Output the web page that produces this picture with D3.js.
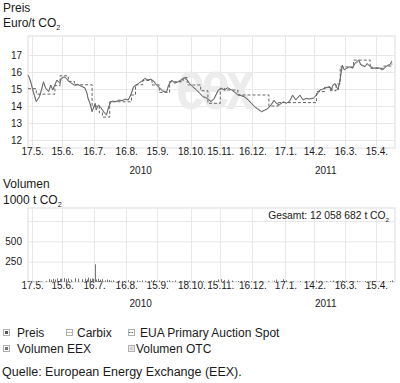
<!DOCTYPE html>
<html><head><meta charset="utf-8">
<script src="https://cdn.jsdelivr.net/npm/d3@7"></script>
<style>body{margin:0;background:#fff;} svg text{font-family:"Liberation Sans",Arial,Helvetica,sans-serif;fill:#1a1a1a;}</style>
</head><body><svg id="c" width="400" height="383"></svg>
<script>
const priceDates = ["2010-05-13","2010-05-14","2010-05-16","2010-05-18","2010-05-21","2010-05-24","2010-05-26","2010-05-28","2010-05-30",
"2010-06-02","2010-06-04","2010-06-06","2010-06-08","2010-06-10","2010-06-13","2010-06-14","2010-06-17","2010-06-19","2010-06-21","2010-06-24","2010-06-27","2010-06-30",
"2010-07-04","2010-07-07","2010-07-09","2010-07-10","2010-07-12","2010-07-14","2010-07-15","2010-07-17","2010-07-18","2010-07-20","2010-07-22","2010-07-24","2010-07-26","2010-07-28","2010-07-30",
"2010-08-01","2010-08-03","2010-08-06","2010-08-09","2010-08-12","2010-08-15","2010-08-18","2010-08-21","2010-08-23","2010-08-26","2010-08-28","2010-08-31",
"2010-09-03","2010-09-06","2010-09-09","2010-09-12","2010-09-14","2010-09-17","2010-09-20","2010-09-24","2010-09-26","2010-09-29",
"2010-10-02","2010-10-05","2010-10-08","2010-10-11","2010-10-14","2010-10-16","2010-10-19","2010-10-23","2010-10-26","2010-10-29",
"2010-11-02","2010-11-06","2010-11-09","2010-11-13","2010-11-16","2010-11-19","2010-11-22","2010-11-26","2010-11-29",
"2010-12-02","2010-12-05","2010-12-08","2010-12-12","2010-12-15","2010-12-18","2010-12-21","2010-12-25","2010-12-28","2010-12-31",
"2011-01-03","2011-01-06","2011-01-08","2011-01-11","2011-01-15","2011-01-18","2011-01-21","2011-01-24","2011-01-27","2011-01-31",
"2011-02-03","2011-02-06","2011-02-09","2011-02-13","2011-02-16","2011-02-19","2011-02-22","2011-02-25",
"2011-03-01","2011-03-02","2011-03-04","2011-03-06","2011-03-09","2011-03-11","2011-03-13","2011-03-15","2011-03-17","2011-03-20","2011-03-23","2011-03-25","2011-03-27","2011-03-29","2011-03-31",
"2011-04-04","2011-04-06","2011-04-09","2011-04-12","2011-04-15","2011-04-18","2011-04-21","2011-04-25","2011-04-28","2011-04-30"];

const preisValues = [15.82,15.72,15.33,14.84,14.25,14.55,14.94,15.43,15.04,
14.84,15.24,14.94,15.24,15.53,15.33,15.63,15.72,15.63,15.47,15.33,15.24,15.28,
15.14,15.08,14.75,14.45,14.16,13.66,13.86,14.16,13.76,14.06,13.96,13.76,13.57,13.47,13.96,
14.25,14.29,14.25,14.35,14.31,14.41,14.35,14.75,15.14,15.24,15.33,15.47,
15.63,15.53,15.59,15.43,15.24,15.08,14.88,14.80,15.24,15.53,
15.33,15.43,15.53,15.67,15.53,15.33,15.14,14.94,14.75,14.55,
14.45,14.25,14.45,14.94,15.04,14.94,15.08,14.94,14.80,
14.65,14.61,14.55,14.35,14.16,13.96,13.82,13.66,13.76,13.86,
14.06,14.35,14.16,14.06,14.25,14.16,14.29,14.65,14.35,14.65,
14.35,14.45,14.41,14.45,14.65,14.94,15.00,15.08,
15.14,14.88,15.24,15.33,14.94,15.63,16.41,16.12,16.22,16.31,16.22,16.51,16.61,16.71,16.41,
16.31,16.51,16.31,16.22,16.25,16.22,16.12,16.37,16.45,16.65];

const carbixValues = [15.78,15.70,15.40,14.90,14.32,14.50,14.98,15.38,15.10,
14.90,15.20,14.98,15.28,15.50,15.36,15.60,15.68,15.66,15.50,15.36,15.20,15.25,
15.18,15.05,14.80,14.50,14.10,13.72,13.80,14.10,13.85,14.00,13.90,13.80,13.62,13.55,13.90,
14.20,14.26,14.28,14.33,14.34,14.38,14.38,14.70,15.10,15.20,15.36,15.44,
15.60,15.56,15.55,15.46,15.28,15.12,14.92,14.85,15.20,15.48,
15.38,15.40,15.50,15.62,15.56,15.38,15.18,14.98,14.78,14.60,
14.48,14.30,14.40,14.88,15.00,14.98,15.04,14.96,14.84,
14.70,14.62,14.58,14.40,14.20,14.00,13.86,13.70,13.74,13.84,
14.02,14.30,14.20,14.10,14.22,14.18,14.26,14.58,14.40,14.60,
14.40,14.42,14.44,14.48,14.62,14.90,14.98,15.05,
15.10,14.95,15.20,15.28,15.00,15.55,16.30,16.15,16.20,16.28,16.25,16.45,16.55,16.62,16.45,
16.35,16.45,16.35,16.25,16.22,16.25,16.15,16.32,16.42,16.58];

const auctionDates = ["2010-05-13","2010-05-21","2010-06-08","2010-06-13","2010-06-21","2010-06-27","2010-07-14","2010-07-21","2010-07-24","2010-07-31",
"2010-08-21","2010-08-25","2010-09-01","2010-09-10","2010-09-17","2010-09-27","2010-10-10","2010-10-14","2010-10-27","2010-11-03",
"2010-11-15","2010-11-19","2010-12-02","2011-01-01","2011-01-10","2011-02-16","2011-02-24","2011-03-03","2011-03-07","2011-03-11",
"2011-03-24","2011-04-09","2011-04-22","2011-04-30"];
const auctionValues = [15.02,14.7,15.2,15.78,15.45,15.25,14.0,13.6,13.35,14.25,
14.65,15.25,15.5,15.24,14.8,15.43,15.67,15.24,14.9,14.16,
15.04,14.94,14.65,14.0,14.2,14.85,15.1,14.9,15.3,16.3,
16.7,16.22,16.35,16.5];

const volumeEEX = [8,0,10,6,0,12,8,0,10,
35,28,40,30,45,38,42,50,36,44,30,48,40,
35,42,30,55,40,45,38,218,30,42,28,35,20,30,25,
15,20,0,18,12,0,22,15,0,18,10,20,
15,0,20,25,12,18,0,15,22,10,
18,0,12,20,0,15,10,0,18,12,
0,15,20,30,35,25,28,18,0,
12,0,15,0,10,0,0,8,0,10,
0,15,30,0,35,20,0,10,0,12,
0,0,10,0,20,15,0,12,
10,0,18,0,15,12,20,0,15,0,10,0,15,8,0,
12,0,10,15,0,8,0,0,12,20];

const volumeOTC = [5,10,0,8,12,0,6,10,0,
10,0,15,8,0,12,10,0,15,8,12,0,10,
12,0,10,15,0,10,20,0,12,0,8,15,0,10,12,
0,10,8,0,12,6,0,10,8,0,12,0,
10,8,0,12,0,10,8,0,12,6,
0,10,8,0,12,10,0,8,6,0,
10,0,12,15,10,0,8,12,10,
0,8,0,10,0,6,0,0,0,8,
10,0,15,12,0,8,10,0,6,0,
8,0,0,10,12,0,8,10,
0,12,10,0,8,10,0,12,8,0,10,6,0,10,8,
0,10,8,0,12,0,10,8,0,10];

const xTickDates = ["2010-05-17","2010-06-15","2010-07-16","2010-08-16","2010-09-15","2010-10-18","2010-11-15","2010-12-16","2011-01-17","2011-02-14","2011-03-16","2011-04-15"];
const yearLabels = [["2010","2010-08-30"],["2011","2011-02-25"]];
const priceTicks = [12,13,14,15,16,17];
const volumeGrid = [250,500,750];
const volumeTicks = [250,500];

const parse = d3.timeParse("%Y-%m-%d");
const fmt = d3.timeFormat("%-d.%-m.");
const svg = d3.select("#c");
const L = 28, R = 395;
const x = d3.scaleTime().domain([parse("2010-05-13"), parse("2011-05-03")]).range([L, R]);
const yP = d3.scaleLinear().domain([11.53, 18.12]).range([148, 36]);
const yV = d3.scaleLinear().domain([0, 910]).range([282, 208]);
const gridC = "#e8e8e8";

function subText(g, xx, yy, main, sub, size, anchor) {
  const t = g.append("text").attr("x", xx).attr("y", yy).attr("font-size", size).attr("text-anchor", anchor || "start");
  t.append("tspan").text(main);
  t.append("tspan").attr("font-size", size * 0.6).attr("dy", 3).text(sub);
  return t;
}

// titles
svg.append("text").attr("x", 3).attr("y", 12).attr("font-size", 12).text("Preis");
subText(svg, 3, 27, "Euro/t CO", "2", 12);
svg.append("text").attr("x", 3).attr("y", 188).attr("font-size", 12).text("Volumen");
subText(svg, 3, 204, "1000 t CO", "2", 12);

function panel(top, bottom, y, grid, ticks, tickFmt, tickLabelY, yearY) {
  const g = svg.append("g");
  g.append("rect").attr("x", L).attr("y", top).attr("width", R - L).attr("height", bottom - top)
    .attr("fill", "#fff").attr("stroke", "#dcdcdc");
  g.selectAll(".hg").data(grid).join("line")
    .attr("x1", L).attr("x2", R).attr("y1", d => y(d) + 0.5).attr("y2", d => y(d) + 0.5)
    .attr("stroke", gridC);
  g.selectAll(".vg").data(xTickDates).join("line")
    .attr("x1", d => Math.round(x(parse(d))) + 0.5).attr("x2", d => Math.round(x(parse(d))) + 0.5)
    .attr("y1", top).attr("y2", bottom).attr("stroke", gridC);
  const ya = d3.axisLeft(y).tickValues(ticks).tickSize(0).tickPadding(0).tickFormat(tickFmt);
  const yg = g.append("g").attr("transform", "translate(22,0)").call(ya);
  yg.select(".domain").remove();
  yg.selectAll("text").attr("font-size", 10).attr("fill", "#1a1a1a").attr("font-family", null);
  const xa = d3.axisBottom(x).tickValues(xTickDates.map(parse)).tickSize(0).tickPadding(0).tickFormat(fmt);
  const xg = g.append("g").attr("transform", `translate(0,${tickLabelY})`).call(xa);
  xg.select(".domain").remove();
  xg.selectAll("text").attr("font-size", 10).attr("fill", "#1a1a1a").attr("font-family", null).attr("dy", "0.35em");
  g.selectAll(".yr").data(yearLabels).join("text")
    .attr("x", d => x(parse(d[1]))).attr("y", yearY).attr("text-anchor", "middle").attr("font-size", 10).text(d => d[0]);
  return g;
}

const pg = panel(36, 148, yP, priceTicks, priceTicks, d3.format("d"), 151, 174);
// watermark
pg.append("text").attr("x", 0).attr("y", 0).attr("transform", "translate(176,109) scale(1,1.35)")
  .attr("font-size", 52).attr("font-weight", "bold").attr("letter-spacing", -4)
  .style("fill", "#ececec").text("eex");

const pts = priceDates.map((d, i) => ({d: parse(d), p: preisValues[i], c: carbixValues[i]}));
const lineP = d3.line().x(d => x(d.d)).y(d => yP(d.p));
const lineC = d3.line().x(d => x(d.d)).y(d => yP(d.c));
const aPts = auctionDates.map((d, i) => ({d: parse(d), v: auctionValues[i]}));
const lineA = d3.line().curve(d3.curveStepAfter).x(d => x(d.d)).y(d => yP(d.v));
pg.append("path").attr("d", lineC(pts)).attr("fill", "none").attr("stroke", "#b4b4b4").attr("stroke-width", 1);
pg.append("path").attr("d", lineA(aPts)).attr("fill", "none").attr("stroke", "#555").attr("stroke-width", 0.9).attr("stroke-dasharray", "3,2");
pg.append("path").attr("d", lineP(pts)).attr("fill", "none").attr("stroke", "#6a6a6a").attr("stroke-width", 1);

const vg = panel(208, 282, yV, volumeGrid, volumeTicks, d3.format("d"), 285, 307);
vg.selectAll(".otc").data(priceDates).join("rect")
  .attr("x", d => Math.round(x(parse(d))) + 1).attr("width", 1)
  .attr("y", (d, i) => yV(volumeOTC[i])).attr("height", (d, i) => yV(0) - yV(volumeOTC[i]))
  .attr("fill", "#c4c4c4");
vg.selectAll(".eex").data(priceDates).join("rect")
  .attr("x", d => Math.round(x(parse(d)))).attr("width", 1)
  .attr("y", (d, i) => yV(volumeEEX[i])).attr("height", (d, i) => yV(0) - yV(volumeEEX[i]))
  .attr("fill", "#777");
subText(vg, 389, 219, "Gesamt: 12 058 682 t CO", "2", 10.3, "end");

// legend
const lg = svg.append("g");
function icon(xx, yy, kind) {
  const g = lg.append("g").attr("transform", `translate(${xx},${yy})`);
  g.append("rect").attr("x", 0.5).attr("y", 0.5).attr("width", 6).attr("height", 6).attr("fill", "#fff").attr("stroke", "#b0b0b0");
  if (kind === "preis") g.append("rect").attr("x", 2).attr("y", 2).attr("width", 3).attr("height", 3).attr("fill", "#555");
  if (kind === "carbix") g.append("line").attr("x1", 1).attr("x2", 6).attr("y1", 3.5).attr("y2", 3.5).attr("stroke", "#bbb");
  if (kind === "eua") g.append("line").attr("x1", 1).attr("x2", 6).attr("y1", 3.5).attr("y2", 3.5).attr("stroke", "#666").attr("stroke-dasharray", "1.5,1");
  if (kind === "eex") g.append("rect").attr("x", 2).attr("y", 2).attr("width", 3).attr("height", 3).attr("fill", "#777");
  if (kind === "otc") g.append("rect").attr("x", 1.5).attr("y", 1.5).attr("width", 4).attr("height", 4).attr("fill", "#d0d0d0");
}
const legendItems = [
  ["preis", "Preis", 3, 17, 331],
  ["carbix", "Carbix", 66, 77, 331],
  ["eua", "EUA Primary Auction Spot", 128, 140, 331],
  ["eex", "Volumen EEX", 3, 17, 347],
  ["otc", "Volumen OTC", 128, 136, 347]
];
legendItems.forEach(it => {
  icon(it[2], it[4] - 2, it[0]);
  lg.append("text").attr("x", it[3]).attr("y", it[4] + 6).attr("font-size", 12).text(it[1]);
});
svg.append("text").attr("x", 2).attr("y", 376).attr("font-size", 12.5).text("Quelle: European Energy Exchange (EEX).");
</script></body></html>
